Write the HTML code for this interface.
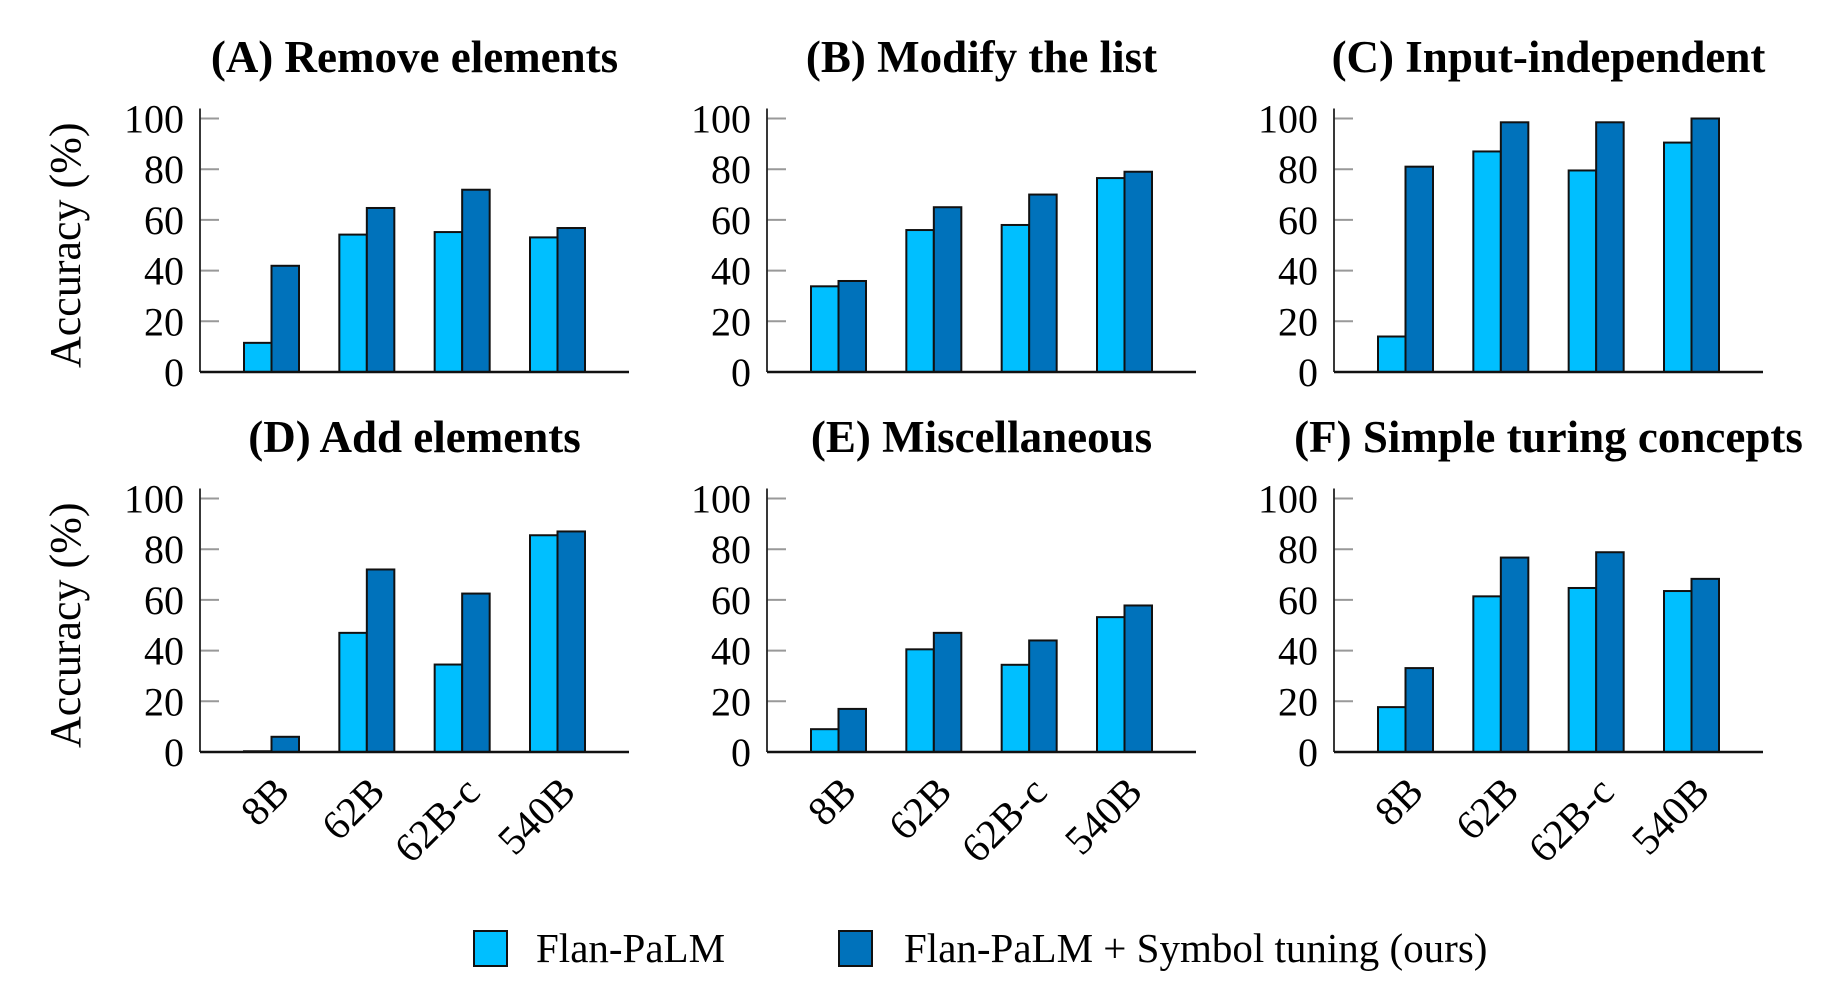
<!DOCTYPE html>
<html><head><meta charset="utf-8">
<style>
html,body{margin:0;padding:0;background:#fff;}
svg{display:block;font-family:"Liberation Serif",serif;}
</style></head>
<body>
<svg id="chart" width="1848" height="989" viewBox="0 0 1848 989" xmlns="http://www.w3.org/2000/svg"></svg>
<script>
const titles = ["(A) Remove elements","(B) Modify the list","(C) Input-independent","(D) Add elements","(E) Miscellaneous","(F) Simple turing concepts"];
const categories = ["8B","62B","62B-c","540B"];
const flanA = [11.5,54.2,55.2,53.1];
const symA  = [41.9,64.7,71.9,56.8];
const flanB = [33.8,56,58,76.5];
const symB  = [35.9,65,70,79];
const flanC = [14,87,79.5,90.5];
const symC  = [81,98.5,98.5,100];
const flanD = [0.3,47,34.5,85.5];
const symD  = [6,72,62.5,87];
const flanE = [9,40.5,34.4,53.2];
const symE  = [17,47,44,57.8];
const flanF = [17.7,61.4,64.7,63.5];
const symF  = [33.1,76.7,78.8,68.3];
const yTicks = [0,20,40,60,80,100];
const legendLabels = ["Flan-PaLM","Flan-PaLM + Symbol tuning (ours)"];

const flanSeries = [flanA,flanB,flanC,flanD,flanE,flanF];
const symSeries = [symA,symB,symC,symD,symE,symF];
const LIGHT="#00BFFF", DARK="#0072BB";
const svg=document.getElementById('chart');
const NS="http://www.w3.org/2000/svg";
function mk(tag,attrs,parent){const e=document.createElementNS(NS,tag);for(const k in attrs)e.setAttribute(k,attrs[k]);(parent||svg).appendChild(e);return e;}

const axisW=429, plotH=253.5, barW=27.5;
const colX=[200,767,1334], rowY0=[372,752];

for(let p=0;p<6;p++){
  const ax=colX[p%3], y0=rowY0[Math.floor(p/3)];
  const g=mk('g',{});
  
  
  const yS=v=>y0-v/100*plotH;
  const xS=i=>ax+(i+0.75)*(axisW/4.5);
  const t=mk('text',{x:ax+axisW/2,y:y0-300,'text-anchor':'middle','font-size':'45','font-weight':'bold'},g);
  t.textContent=titles[p];
  
  
  yTicks.forEach(v=>{
    const tk=mk('line',{x1:ax,x2:ax+19,y1:yS(v),y2:yS(v),stroke:'#999','stroke-width':'2'},g);
    
    
    const tl=mk('text',{x:ax-16,y:yS(v)+14,'text-anchor':'end','font-size':'40'},g);
    tl.textContent=v;
    
    
  });
  categories.forEach((c,i)=>{
    const cx=xS(i);
    [[flanSeries[p][i],LIGHT,cx-barW],[symSeries[p][i],DARK,cx]].forEach(([v,col,x],k)=>{
      const b=mk('rect',{x:x,y:yS(v),width:barW,height:y0-yS(v),fill:col,stroke:'#111','stroke-width':'2'},g);
      
      
    });
    if(p>=3){
      const xl=mk('text',{x:0,y:0,'text-anchor':'end','font-size':'41',transform:`translate(${cx+20},${y0+42}) rotate(-45)`},g);
      xl.textContent=c;
      
      
    }
  });
  const ya=mk('line',{x1:ax,x2:ax,y1:y0,y2:y0-plotH-10,stroke:'#222','stroke-width':'1.8'},g);
  
  
  const xa=mk('line',{x1:ax,x2:ax+axisW,y1:y0,y2:y0,stroke:'#111','stroke-width':'2.5'},g);
  
  
  if(p%3===0){
    const yl=mk('text',{x:0,y:0,'text-anchor':'middle','font-size':'44',transform:`translate(80,${y0-plotH/2}) rotate(-90)`},g);
    yl.textContent='Accuracy (%)';
    
    
  }
}
// legend
const lg=mk('g',{});


[[474,536,LIGHT],[839,904,DARK]].forEach(([bx,tx,col],k)=>{
  const r=mk('rect',{x:bx,y:931,width:33,height:35,fill:col,stroke:'#111','stroke-width':'2'},lg);
  
  
  const t=mk('text',{x:tx,y:962,'font-size':'41'},lg);
  t.textContent=legendLabels[k];
  
  
});
</script>
</body></html>
